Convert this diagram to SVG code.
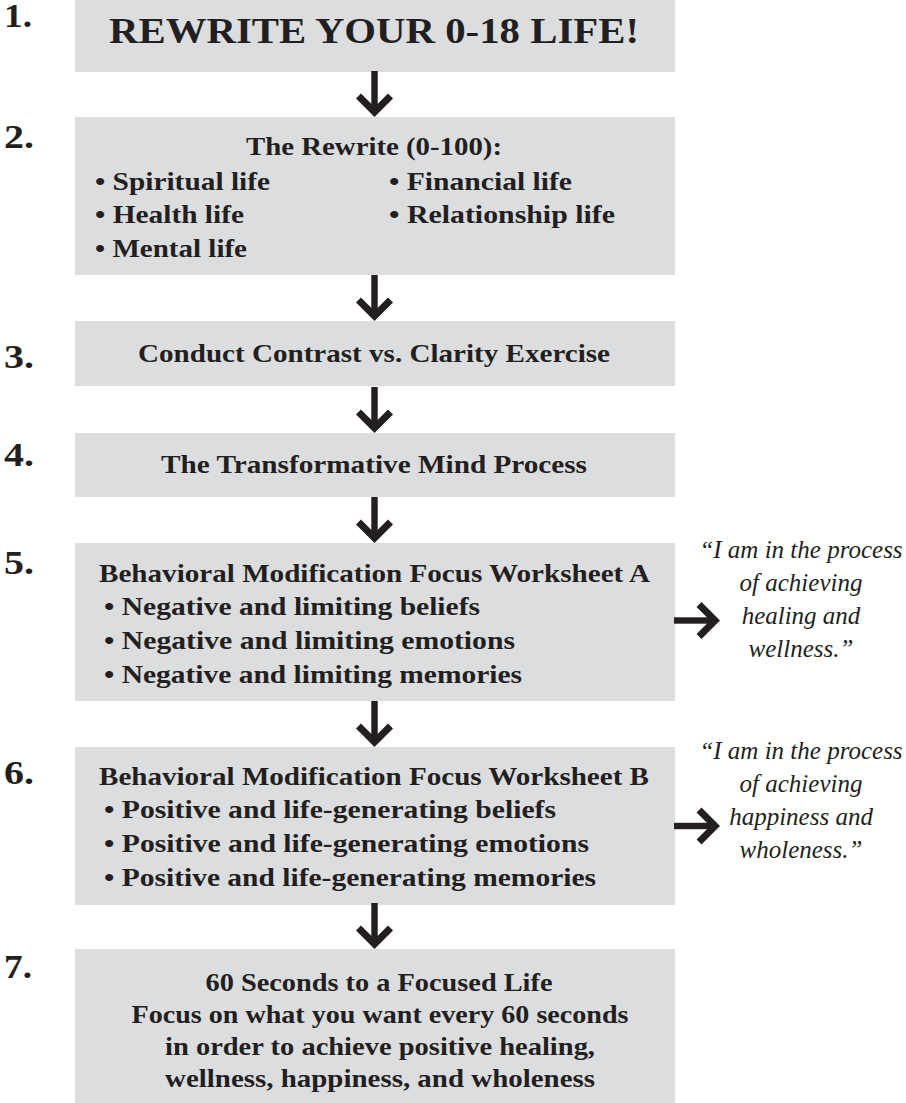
<svg xmlns="http://www.w3.org/2000/svg" xmlns:xlink="http://www.w3.org/1999/xlink" width="906" height="1103" viewBox="0 0 906 1103">
<style>
  .box { fill: #dcdddf; }
  .t { font-family: "Liberation Serif", "Times New Roman", serif; font-weight: bold; font-size: 26px; fill: #231f20; }
  .c { text-anchor: middle; }
  .title { font-size: 36px; }
  .num { font-family: "Liberation Serif", "Times New Roman", serif; font-weight: bold; font-size: 33px; fill: #231f20; }
  .q { font-family: "Liberation Serif", "Times New Roman", serif; font-style: italic; font-size: 25px; fill: #231f20; text-anchor: middle; }
  .arrow { fill: #231f20; }
</style>
<defs>
  <g id="arr">
    <rect x="-3.2" y="-46" width="6.4" height="40"/>
    <polygon points="0,0 -18.5,-18.5 -13.55,-23.45 0,-9.9 13.55,-23.45 18.5,-18.5"/>
  </g>
</defs>

<g id="node1">
  <rect class="box" x="75" y="0" width="600" height="72"/>
  <text class="num" x="4" y="27" textLength="28" lengthAdjust="spacingAndGlyphs">1.</text>
  <text class="t c title" x="374" y="43" textLength="530" lengthAdjust="spacingAndGlyphs">REWRITE YOUR 0-18 LIFE!</text>
</g>

<g id="node2">
  <rect class="box" x="75" y="117" width="600" height="158"/>
  <text class="num" x="4" y="148" textLength="30" lengthAdjust="spacingAndGlyphs">2.</text>
  <text class="t c" x="374" y="155" textLength="256" lengthAdjust="spacingAndGlyphs">The Rewrite (0-100):</text>
  <text class="t" x="95" y="190" textLength="175" lengthAdjust="spacingAndGlyphs">• Spiritual life</text>
  <text class="t" x="95" y="223" textLength="149" lengthAdjust="spacingAndGlyphs">• Health life</text>
  <text class="t" x="95" y="257" textLength="152" lengthAdjust="spacingAndGlyphs">• Mental life</text>
  <text class="t" x="389" y="190" textLength="183" lengthAdjust="spacingAndGlyphs">• Financial life</text>
  <text class="t" x="389" y="223" textLength="226" lengthAdjust="spacingAndGlyphs">• Relationship life</text>
</g>

<g id="node3">
  <rect class="box" x="75" y="321" width="600" height="65"/>
  <text class="num" x="4" y="368" textLength="30" lengthAdjust="spacingAndGlyphs">3.</text>
  <text class="t c" x="374" y="362" textLength="472" lengthAdjust="spacingAndGlyphs">Conduct Contrast vs. Clarity Exercise</text>
</g>

<g id="node4">
  <rect class="box" x="75" y="433" width="600" height="64"/>
  <text class="num" x="4" y="466" textLength="30" lengthAdjust="spacingAndGlyphs">4.</text>
  <text class="t c" x="374" y="473" textLength="426" lengthAdjust="spacingAndGlyphs">The Transformative Mind Process</text>
</g>

<g id="node5">
  <rect class="box" x="75" y="543" width="600" height="158"/>
  <text class="num" x="4" y="574" textLength="30" lengthAdjust="spacingAndGlyphs">5.</text>
  <text class="t c" x="374.5" y="582" textLength="551" lengthAdjust="spacingAndGlyphs">Behavioral Modification Focus Worksheet A</text>
  <text class="t" x="104" y="615" textLength="376" lengthAdjust="spacingAndGlyphs">• Negative and limiting beliefs</text>
  <text class="t" x="104" y="649" textLength="411" lengthAdjust="spacingAndGlyphs">• Negative and limiting emotions</text>
  <text class="t" x="104" y="683" textLength="418" lengthAdjust="spacingAndGlyphs">• Negative and limiting memories</text>
</g>

<g id="quoteA">
  <text class="q" x="801" y="558">“I am in the process</text>
  <text class="q" x="801" y="591">of achieving</text>
  <text class="q" x="801" y="624">healing and</text>
  <text class="q" x="801" y="657">wellness.”</text>
</g>

<g id="node6">
  <rect class="box" x="75" y="747" width="600" height="158"/>
  <text class="num" x="4" y="784" textLength="30" lengthAdjust="spacingAndGlyphs">6.</text>
  <text class="t c" x="374" y="785" textLength="550" lengthAdjust="spacingAndGlyphs">Behavioral Modification Focus Worksheet B</text>
  <text class="t" x="104" y="818" textLength="452" lengthAdjust="spacingAndGlyphs">• Positive and life-generating beliefs</text>
  <text class="t" x="104" y="852" textLength="485" lengthAdjust="spacingAndGlyphs">• Positive and life-generating emotions</text>
  <text class="t" x="104" y="886" textLength="492" lengthAdjust="spacingAndGlyphs">• Positive and life-generating memories</text>
</g>

<g id="quoteB">
  <text class="q" x="801" y="759">“I am in the process</text>
  <text class="q" x="801" y="792">of achieving</text>
  <text class="q" x="801" y="825">happiness and</text>
  <text class="q" x="801" y="858">wholeness.”</text>
</g>

<g id="node7">
  <rect class="box" x="75" y="949" width="600" height="154"/>
  <text class="num" x="4" y="978" textLength="28" lengthAdjust="spacingAndGlyphs">7.</text>
  <text class="t c" x="379" y="991" textLength="347" lengthAdjust="spacingAndGlyphs">60 Seconds to a Focused Life</text>
  <text class="t c" x="380" y="1023" textLength="497" lengthAdjust="spacingAndGlyphs">Focus on what you want every 60 seconds</text>
  <text class="t c" x="380" y="1055" textLength="430" lengthAdjust="spacingAndGlyphs">in order to achieve positive healing,</text>
  <text class="t c" x="380" y="1087" textLength="430" lengthAdjust="spacingAndGlyphs">wellness, happiness, and wholeness</text>
</g>

<g id="connectors" class="arrow">
  <use xlink:href="#arr" href="#arr" transform="translate(374.5,117)"/>
  <use xlink:href="#arr" href="#arr" transform="translate(374.5,321)"/>
  <use xlink:href="#arr" href="#arr" transform="translate(374.5,433)"/>
  <use xlink:href="#arr" href="#arr" transform="translate(374.5,543)"/>
  <use xlink:href="#arr" href="#arr" transform="translate(374.5,747)"/>
  <use xlink:href="#arr" href="#arr" transform="translate(374.5,949)"/>
  <use xlink:href="#arr" href="#arr" transform="translate(720,620.5) rotate(-90)"/>
  <use xlink:href="#arr" href="#arr" transform="translate(720,826) rotate(-90)"/>
</g>
</svg>
